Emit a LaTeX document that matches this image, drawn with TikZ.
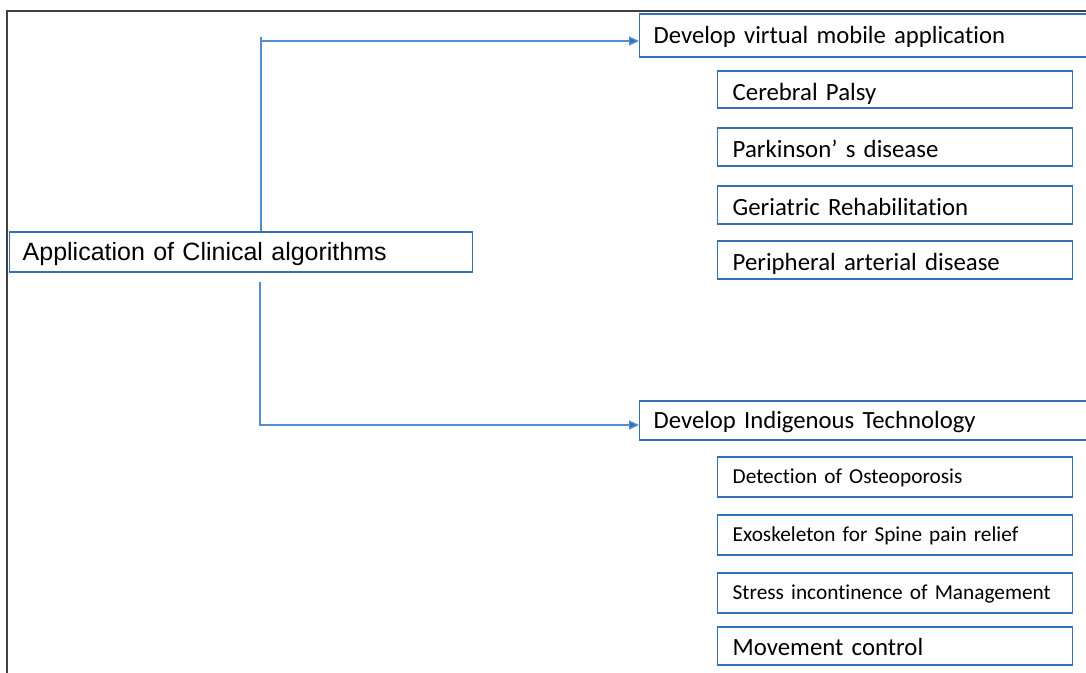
\documentclass[tikz,border=0pt]{standalone}
\usepackage{fontspec}
\setmainfont{Carlito}[RawFeature={-liga}]
\newfontfamily\arialfont{Liberation Sans}
\usetikzlibrary{arrows.meta}

\definecolor{boxblue}{RGB}{52,114,180}
\definecolor{linkblue}{RGB}{84,141,204}
\definecolor{framegray}{RGB}{64,64,64}

\begin{document}
\begin{tikzpicture}[x=1pt,y=-1pt,
    box/.style={draw=boxblue,line width=1.4pt,anchor=west,align=left,inner ysep=0pt,text depth=0pt},
    mainbox/.style={box,inner xsep=14pt,text width=442pt,text height=16pt,font=\fontsize{24.7}{28}\selectfont},
    sub/.style={box,inner xsep=15pt,text width=325pt,text height=21pt,font=\fontsize{24.8}{28}\selectfont},
    small/.style={text height=13pt,font=\fontsize{21.3}{25}\selectfont},
    link/.style={draw=linkblue,line width=1.2pt},
    arrow/.style={link,-{Triangle[length=10pt,width=9pt,fill=boxblue]}}]
\clip (0,0) rectangle (1086,672);
\fill[white] (0,0) rectangle (1086,672);
% outer frame
\draw[framegray,line width=1.6pt] (7,680) -- (7,11) -- (1100,11);

% root
\node[box,inner xsep=13pt,text width=437pt,minimum height=40pt,text height=17pt,
      font=\arialfont\fontsize{25}{28}\selectfont]
  (root) at (9,252) {Application of Clinical algorithms};

% first branch
\node[mainbox,minimum height=43pt] (mob) at (639,35.5) {Develop virtual mobile application};
\node[sub,minimum height=37pt] (cp)  at (717,89.5) {Cerebral Palsy};
\node[sub,minimum height=38pt] (pd)  at (717,147)  {Parkinson’ s disease};
\node[sub,minimum height=38pt] (gr)  at (717,205)  {Geriatric Rehabilitation};
\node[sub,minimum height=38pt] (pad) at (717,260)  {Peripheral arterial disease};

% second branch
\node[mainbox,minimum height=39pt] (ind) at (639,420.5) {Develop Indigenous Technology};
\node[sub,small,minimum height=40pt] (os) at (717,477) {Detection of Osteoporosis};
\node[sub,small,minimum height=40pt] (ex) at (717,535) {Exoskeleton for Spine pain relief};
\node[sub,small,minimum height=40pt] (si) at (717,593) {Stress incontinence of Management};
\node[sub,text height=18pt,minimum height=38pt] (mc) at (717,646) {Movement control};

% connectors
\coordinate (up) at (261,37);
\coordinate (upr) at (261,41);
\coordinate (lo) at (260,282);
\coordinate (dn) at (260,425);
\draw[link] (root.north -| up) -- (up);
\draw[arrow] (upr) -- (mob.west |- upr);
\draw[arrow] (lo) |- (ind.west |- dn);
\end{tikzpicture}
\end{document}
